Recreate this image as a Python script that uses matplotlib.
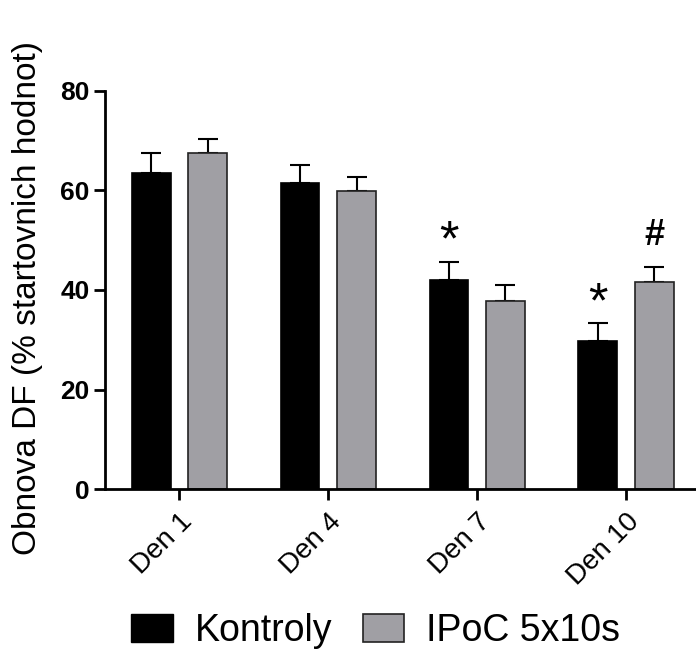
import matplotlib.pyplot as plt
import matplotlib.patches as mpatches
import numpy as np

plt.rcParams['font.family'] = ['Liberation Sans', 'DejaVu Sans']

days = ['Den 1', 'Den 4', 'Den 7', 'Den 10']
kontroly = [63.5, 61.5, 42.1, 29.8]
kontroly_err = [4.0, 3.6, 3.6, 3.5]
ipoc = [67.5, 59.9, 37.7, 41.7]
ipoc_err = [2.9, 2.8, 3.3, 3.0]
series_names = ['Kontroly', 'IPoC 5x10s']
# significance marks: (day index, series index, symbol)
marks = [(2, 0, '*'), (3, 0, '*'), (3, 1, '#')]

black = '#000000'
grey = '#a09fa4'

fig = plt.figure(figsize=(6.96, 6.5), dpi=100)
ax = fig.add_axes([105 / 696, 160.7 / 650, 591 / 696, 398.6 / 650])

x = np.arange(len(days))
w = 0.26
off = 0.19
ax.bar(x - off, kontroly, w, color=black, edgecolor=black, linewidth=1.2, zorder=2)
ax.bar(x + off, ipoc, w, color=grey, edgecolor='#222222', linewidth=1.2, zorder=2)
ax.errorbar(x - off, kontroly, yerr=[np.zeros(4), kontroly_err], fmt='none',
            ecolor='black', elinewidth=1.5, capsize=7, capthick=1.5, zorder=1, clip_on=False)
ax.errorbar(x + off, ipoc, yerr=[np.zeros(4), ipoc_err], fmt='none',
            ecolor='black', elinewidth=1.5, capsize=7, capthick=1.5, zorder=1, clip_on=False)

vals = [kontroly, ipoc]
errs = [kontroly_err, ipoc_err]
for d, s, sym in marks:
    top = vals[s][d] + errs[s][d]
    xpos = x[d] + (off if s else -off)
    if sym == '*':
        ax.text(xpos, top - 0.8, sym, ha='center', va='bottom', fontsize=36,
                fontweight='normal', clip_on=False)
    else:
        ax.text(xpos, top + 2.8, sym, ha='center', va='bottom', fontsize=26,
                fontweight='bold', clip_on=False)

ax.set_xlim(-0.5, 3.47)
ax.set_ylim(0, 80)
ax.set_yticks([0, 20, 40, 60, 80])
ax.set_xticks(x)
ax.set_xticklabels(days, rotation=45, ha='right', rotation_mode='anchor',
                   fontsize=20)
for lab in ax.get_yticklabels():
    lab.set_fontsize(19)
    lab.set_fontweight('bold')
ax.tick_params(axis='both', width=2, length=8, direction='out')
ax.tick_params(axis='x', pad=6)
ax.tick_params(axis='y', pad=3)
for side in ['top', 'right']:
    ax.spines[side].set_visible(False)
for side in ['left', 'bottom']:
    ax.spines[side].set_linewidth(2)

ax.set_ylabel('Obnova DF (% startovnich hodnot)', fontsize=24)
ax.yaxis.set_label_coords(-0.105, 0.48)

handles = [mpatches.Patch(facecolor=black, edgecolor=black, label=series_names[0]),
           mpatches.Patch(facecolor=grey, edgecolor='#222222', linewidth=1.2, label=series_names[1])]
fig.legend(handles=handles, loc='center', bbox_to_anchor=(0.54, 0.029), ncol=2,
           fontsize=27, frameon=False, handlelength=1.1, handleheight=0.77,
           handletextpad=0.6, columnspacing=0.8)

fig.savefig('out.png', dpi=100)
